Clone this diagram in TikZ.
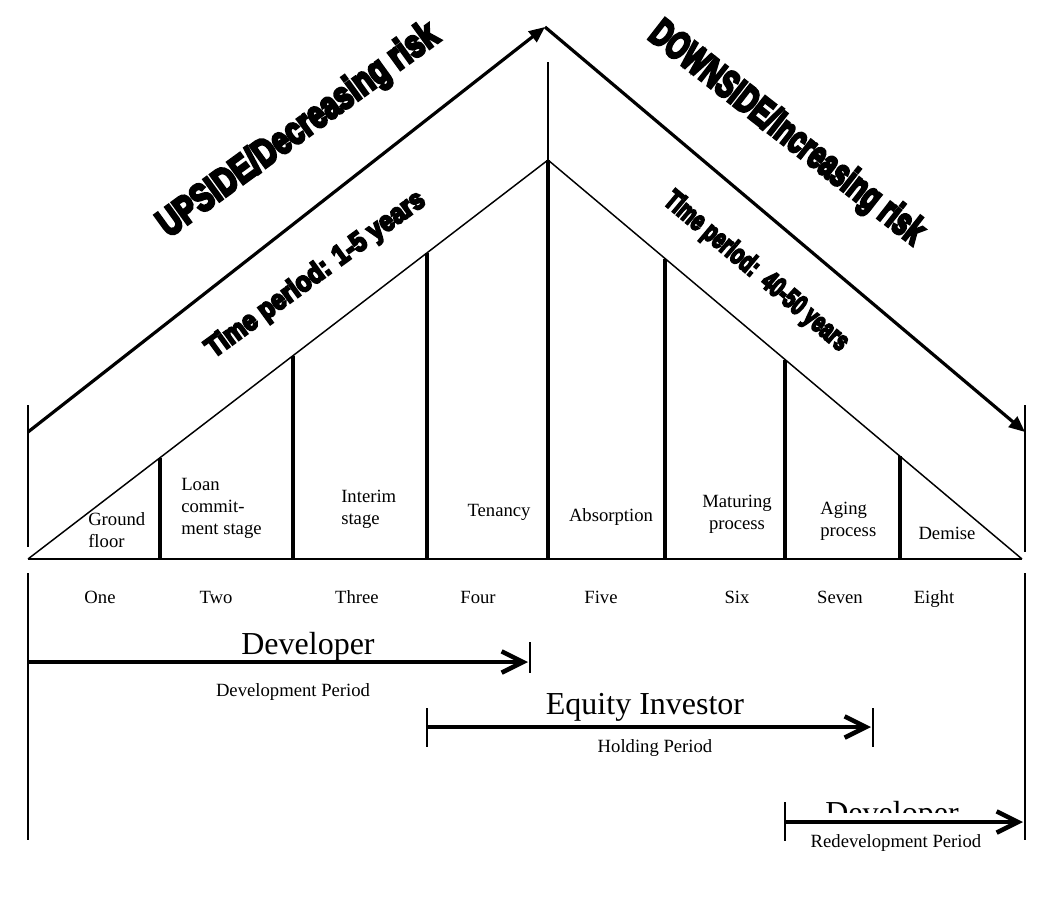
\documentclass[tikz,border=0pt]{standalone}
\usepackage{graphicx}
\usepackage{fontspec}
\setmainfont{Liberation Serif}
\newfontfamily\heavyfont[FakeBold=8]{Liberation Sans Bold}
\usepackage{tikz}
\usetikzlibrary{arrows.meta}

\tikzset{
  riskarrow/.style={line width=2.4pt,-{Triangle[length=12pt,width=10pt]}},
  periodarrow/.style={line width=2.8pt,-{Straight Barb[length=16pt,width=16pt,line width=3.4pt]}},
  divider/.style={line width=2.5pt},
  thinline/.style={line width=1.1pt},
  tick/.style={line width=1.2pt},
  lbl/.style={font=\fontsize{14}{16.5}\selectfont,inner sep=0.75pt,align=center},
  role/.style={font=\fontsize{24}{28}\selectfont,inner sep=0.75pt},
  slogan/.style={font=\heavyfont\fontsize{29}{31}\selectfont,inner sep=0pt},
  period/.style={font=\heavyfont\fontsize{21}{23}\selectfont,inner sep=0pt}
}

\begin{document}
\begin{tikzpicture}[x=0.75pt,y=0.75pt,yscale=-1,xscale=1]
\useasboundingbox (0,0) rectangle (1041,914);

% corner points
\coordinate (baseL) at (28,559);
\coordinate (baseR) at (1022,559);
\coordinate (apex) at (548,160);
\coordinate (peak) at (545,27);
\coordinate (upstart) at (28,432);
\coordinate (downend) at (1025,432);

%Straight Lines (risk arrows)
\draw [riskarrow] (upstart) -- (peak);
\draw [riskarrow] (peak) -- (downend);

%Triangle
\draw [thinline] (baseL) -- (apex) -- (baseR);
\draw [line width=1.5pt] (baseL) -- (baseR);
\draw [thinline] (548,62) -- (apex);
\draw [divider] (apex) -- (548,559);
\foreach \x/\y in {160/457.7,293/355.7,427/252.8,665/258.5,785/359.5,900/456.3}
  \draw [divider] (\x,\y) -- (\x,559);

%Straight Lines (ticks)
\draw [tick] (28,405) -- (28,547);
\draw [tick] (28,573) -- (28,840);
\draw [tick] (1025,405) -- (1025,552);
\draw [tick] (1025,573) -- (1025,840);
\draw [tick] (530,642) -- (530,673);
\draw [tick] (427,708) -- (427,747);
\draw [tick] (873,708) -- (873,747);
\draw [tick] (785,802) -- (785,841);

%Straight Lines (periods)
\coordinate (devstart) at (28,662);
\coordinate (devend) at (528,662);
\coordinate (eqstart) at (427,727);
\coordinate (eqend) at (871,727);
\coordinate (redevstart) at (785,822);
\coordinate (redevend) at (1023,822);
\draw [periodarrow] (devstart) -- (devend);
\draw [periodarrow] (eqstart) -- (eqend);
\draw [periodarrow] (redevstart) -- (redevend);

% Text Node
\draw (299,131) node (upside) [slogan,rotate=36] {\scalebox{0.76}[1]{UPSIDE/Decreasing risk}};
% Text Node
\draw (316,275) node (upperiod) [period,rotate=36] {\scalebox{0.88}[1]{Time period: 1-5 years}};
% Text Node
\draw (786,134) node (downside) [slogan,rotate=-38] {\scalebox{0.68}[1]{DOWNSIDE/Increasing risk}};
% Text Node
\draw (756,272) node (downperiod) [period,rotate=-40] {\scalebox{0.69}[1]{Time period:\ \ 40-50 years}};

% Text Node
\draw (87,530) node (ground) [lbl,anchor=west,align=left] {Ground\\floor};
% Text Node
\draw (180,508) node (loan) [lbl,anchor=west,align=left] {Loan\\commit-\\ment stage};
% Text Node
\draw (340,509) node (interim) [lbl,anchor=west,align=left] {Interim\\stage};
% Text Node
\draw (499,512) node (tenancy) [lbl] {Tenancy};
% Text Node
\draw (611,517) node (absorption) [lbl] {Absorption};
% Text Node
\draw (737,514) node (maturing) [lbl] {Maturing\\process};
% Text Node
\draw (819,521) node (aging) [lbl,anchor=west,align=left] {Aging\\process};
% Text Node
\draw (947,533) node (demise) [lbl] {Demise};

% Text Node
\foreach \x/\name/\txt in {100/one/One,216/two/Two,357/three/Three,478/four/Four,601/five/Five,737/six/Six,840/seven/Seven,934/eight/Eight}
  \draw (\x,603) node (\name) [lbl,anchor=base] {\txt};

% Text Node
\draw (308,654) node (developer) [role,anchor=base] {Developer};
% Text Node
\draw (293,692) node (devperiod) [lbl] {Development Period};
% Text Node
\draw (645,714) node (equity) [role,anchor=base] {Equity Investor};
% Text Node
\draw (655,748) node (holding) [lbl] {Holding Period};
% Text Node
\begin{scope}
\clip (780,790) rectangle (1000,812);
\draw (892,823) node (redeveloper) [role,anchor=base] {Developer};
\end{scope}
% Text Node
\draw (896,843) node (redevperiod) [lbl] {Redevelopment Period};

\end{tikzpicture}
\end{document}
